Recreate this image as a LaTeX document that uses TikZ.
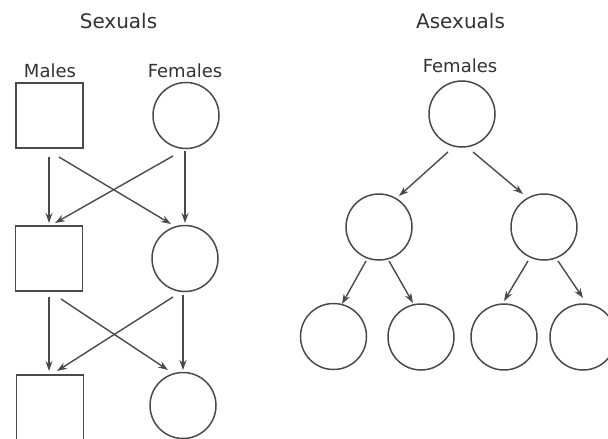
\documentclass[tikz,border=0pt]{standalone}
\usepackage{fontspec}
\setmainfont{DejaVu Sans}
\usetikzlibrary{arrows.meta,calc}
\definecolor{ln}{HTML}{4A4A4A}
\definecolor{tx}{HTML}{333333}
\tikzset{
  sq/.style={draw=ln,line width=1.5pt,minimum width=67pt,minimum height=65pt,inner sep=0pt},
  cir/.style={draw=ln,line width=1.5pt,circle,minimum size=66pt,inner sep=0pt},
  arr/.style={draw=ln,line width=1.4pt,-{Stealth[length=10pt,width=7pt]}},
  ttl/.style={text=tx,font=\fontsize{20}{24}\selectfont,anchor=base,inner sep=0pt},
  lbl/.style={text=tx,font=\fontsize{18}{22}\selectfont,anchor=base,inner sep=0pt}
}
\begin{document}
\begin{tikzpicture}[x=1pt,y=-1pt]
\useasboundingbox (0,0) rectangle (608,439);
\clip (0,0) rectangle (608,439);
\fill[white] (0,0) rectangle (608,439);
% titles
\node[ttl] (tsex) at (118.5,28) {Sexuals};
\node[ttl] (tasex) at (460.5,28) {Asexuals};
\node[lbl] (lmale) at (50,77) {Males};
\node[lbl] (lfem) at (185,77) {Females};
\node[lbl] (rfem) at (460,72) {Females};
% sexual nodes
\node[sq] (m1) at (49.5,115.5) {};
\node[sq] (m2) at (49,258.5) {};
\node[sq] (m3) at (50,407.5) {};
\node[cir] (f1) at (186,115.5) {};
\node[cir] (f2) at (185,258.5) {};
\node[cir] (f3) at (183,405.5) {};
% asexual nodes
\node[cir] (a1) at (462,114) {};
\node[cir] (a2) at (379,227) {};
\node[cir] (a3) at (544,227) {};
\node[cir] (b1) at (333.5,336.5) {};
\node[cir] (b2) at (421,337) {};
\node[cir] (b3) at (504,337) {};
\node[cir] (b4) at (583,337) {};
% sexual arrows, row 1 to 2
\draw[arr] ($(m1)+(-0.5,41.5)$) -- ($(m2)+(0,-35.5)$);
\draw[arr] ($(m1)+(9.5,41.5)$) -- ($(f2)+(-14,-34.5)$);
\draw[arr] ($(f1)+(-13,40.5)$) -- ($(m2)+(6,-35.5)$);
\draw[arr] ($(f1)+(-1,35.5)$) -- ($(f2)+(0,-35.5)$);
% row 2 to 3
\draw[arr] ($(m2)+(0,38.5)$) -- ($(m3)+(-1,-36.5)$);
\draw[arr] ($(m2)+(12,40.5)$) -- ($(f3)+(-15,-35.5)$);
\draw[arr] ($(f2)+(-12,38.5)$) -- ($(m3)+(7,-36.5)$);
\draw[arr] ($(f2)+(-2,36.5)$) -- ($(f3)+(0,-35.5)$);
% asexual arrows
\draw[arr] ($(a1)+(-14,38)$) -- ($(a2)+(20,-31)$);
\draw[arr] ($(a1)+(11,38)$) -- ($(a3)+(-21,-33)$);
\draw[arr] ($(a2)+(-13,34)$) -- ($(b1)+(8.5,-32.5)$);
\draw[arr] ($(a2)+(10,34)$) -- ($(b2)+(-8,-34)$);
\draw[arr] ($(a3)+(-16,34)$) -- ($(b3)+(0,-36)$);
\draw[arr] ($(a3)+(14,34)$) -- ($(b4)+(0,-39)$);
\end{tikzpicture}
\end{document}
